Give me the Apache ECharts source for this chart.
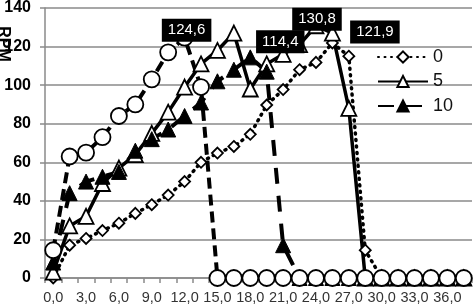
<!DOCTYPE html>
<html>
<head>
<meta charset="utf-8">
<script src="https://cdn.jsdelivr.net/npm/echarts@6/dist/echarts.min.js"></script>
<style>
html,body{margin:0;padding:0;background:#fff;}
#c{width:474px;height:308px;}
</style>
</head>
<body>
<div id="c"></div>
<script>
// Category labels (time, comma decimal)
const categories = ['0,0','1,5','3,0','4,5','6,0','7,5','9,0','10,5','12,0','13,5','15,0','16,5','18,0','19,5','21,0','22,5','24,0','25,5','27,0','28,5','30,0','31,5','33,0','34,5','36,0','37,5'];
const yTicks = [0, 20, 40, 60, 80, 100, 120, 140];
// Series values (RPM)
const series0  = [0, 17, 20.5, 24.6, 28.4, 33.5, 38, 43, 50, 60, 64.8, 68.2, 74.5, 89.7, 97.7, 108, 111.8, 121.9, 115, 14.4, 0, 0, 0, 0, 0, 0];
const series5  = [3, 27, 32, 49, 57, 64, 75, 86, 99, 111, 118, 127, 98, 111, 116, 121, 130.8, 127, 88, 0, 0, 0, 0, 0, 0, 0];
const series10 = [8, 44, 50, 52.5, 55, 66, 72, 77, 84, 91, 102, 108, 114.4, 107, 17, 0, 0, 0, 0, 0, 0, 0, 0, 0, 0, 0];
const seriesCircles = [14.4, 63, 65, 73, 84, 90, 103, 117, 124.6, 99, 0, 0, 0, 0, 0, 0, 0, 0, 0, 0, 0, 0, 0, 0, 0, 0];
const seriesNames = ['0', '5', '10'];

const FONT = '"Liberation Sans", Arial, sans-serif';
const fmt = v => v.toFixed(1).replace('.', ',');

function withPeakLabel(arr, offset) {
  let mi = 0;
  arr.forEach((v, i) => { if (v > arr[mi]) mi = i; });
  return arr.map((v, i) => i === mi ? {
    value: v,
    label: {
      show: true, position: 'inside', offset: offset,
      formatter: p => fmt(p.value),
      backgroundColor: '#000', color: '#fff',
      fontFamily: FONT, fontSize: 15, padding: [4, 6]
    }
  } : v);
}

const chart = echarts.init(document.getElementById('c'), null, {renderer: 'canvas'});
chart.setOption({
  animation: false,
  backgroundColor: '#fff',
  grid: {left: 45, right: 2, top: 5, bottom: 30, containLabel: false},
  legend: {
    data: seriesNames,
    orient: 'vertical',
    left: 372, top: 43,
    itemWidth: 50, itemHeight: 14, itemGap: 6.5, itemTextGap: 8,
    textStyle: {fontFamily: FONT, fontSize: 18, color: '#111', lineHeight: 18}
  },
  xAxis: {
    type: 'category',
    data: categories,
    boundaryGap: true,
    axisLine: {lineStyle: {color: '#8a8a8a', width: 1.5}},
    axisTick: {show: true, interval: 0, length: 5, lineStyle: {color: '#8a8a8a', width: 1.5}},
    axisLabel: {interval: 1, margin: 12, fontFamily: FONT, fontSize: 14.5, color: '#333'},
    splitLine: {show: false}
  },
  yAxis: {
    type: 'value',
    min: yTicks[0], max: yTicks[yTicks.length - 1], interval: 20,
    axisLine: {show: true, lineStyle: {color: '#8a8a8a', width: 1.5}},
    axisTick: {show: true, length: 5, lineStyle: {color: '#8a8a8a', width: 1.5}},
    axisLabel: {margin: 14, fontFamily: FONT, fontSize: 16, fontWeight: 'bold', color: '#000'},
    splitLine: {show: true, lineStyle: {color: '#8a8a8a', width: 1.5}}
  },
  graphic: [{
    type: 'text', x: 3, y: 44, rotation: -Math.PI / 2,
    style: {text: 'RPM', x: 0, y: 0, align: 'center', verticalAlign: 'middle',
      font: 'bold 16px ' + FONT, fill: '#000'}
  }],
  series: [
    {
      name: seriesNames[0], type: 'line', data: withPeakLabel(series0, [42.5, -11]),
      symbol: 'diamond', symbolSize: 11, showAllSymbol: true,
      lineStyle: {color: '#000', width: 3.5, type: [1, 5.5], cap: 'round'},
      itemStyle: {color: '#fff', borderColor: '#000', borderWidth: 1.8}
    },
    {
      name: seriesNames[1], type: 'line', data: withPeakLabel(series5, [1, -6.5]),
      symbol: 'triangle', symbolSize: 15, showAllSymbol: true,
      lineStyle: {color: '#000', width: 3.5, type: 'solid'},
      itemStyle: {color: '#fff', borderColor: '#000', borderWidth: 1.8}
    },
    {
      name: seriesNames[2], type: 'line', data: withPeakLabel(series10, [30, -15.5]),
      symbol: 'triangle', symbolSize: 15, showAllSymbol: true,
      lineStyle: {color: '#000', width: 4, type: [16, 12]},
      itemStyle: {color: '#000', borderColor: '#000', borderWidth: 1}
    },
    {
      name: 'c', type: 'line', data: withPeakLabel(seriesCircles, [2, -7.5]),
      symbol: 'circle', symbolSize: 16, showAllSymbol: true,
      lineStyle: {color: '#000', width: 4, type: [11, 6]},
      itemStyle: {color: '#fff', borderColor: '#000', borderWidth: 1.8}
    }
  ]
});
</script>
</body>
</html>
